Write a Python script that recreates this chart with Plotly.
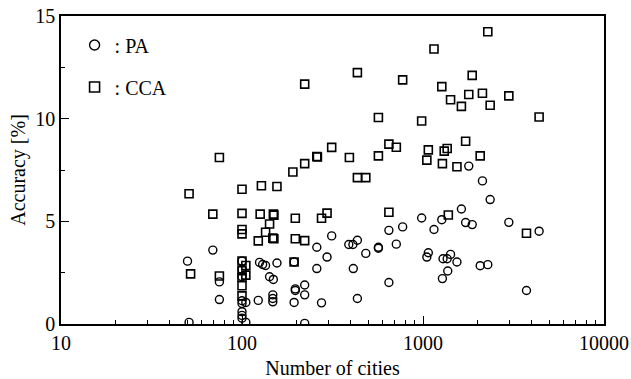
import plotly.graph_objects as go

# PA (circles)
pa_x = [50, 51, 69, 75, 75, 100, 100, 100, 100, 100, 100, 100, 100, 105, 105,
        123, 125, 130, 135, 142, 149, 148, 148, 148, 156, 194, 197, 197, 194,
        222, 222, 222, 259, 259, 275, 295, 313, 389, 410, 412, 434, 434, 483,
        567, 567, 648, 648, 712, 772, 983, 1050, 1070, 1150, 1270, 1290, 1360,
        1280, 1370, 1420, 1540, 1630, 1720, 1870, 1790, 2130, 2070, 2280, 2350,
        2980, 3730, 4380]
pa_y = [3.06, 0.08, 3.6, 2.05, 1.19, 3.06, 2.66, 2.3, 1.13, 1.0, 0.6, 0.42, 0.28, 1.05, 0.08,
        1.15, 3.0, 2.9, 2.85, 2.3, 2.17, 1.42, 1.24, 1.08, 2.97, 1.05, 1.71, 1.63, 3.02,
        1.9, 1.42, 0.03, 3.74, 2.7, 1.03, 3.26, 4.29, 3.87, 3.87, 2.7, 4.08, 1.24, 3.44,
        3.74, 3.69, 4.56, 2.02, 3.89, 4.73, 5.16, 3.26, 3.47, 4.6, 5.08, 3.18, 3.18,
        2.21, 2.58, 3.39, 3.02, 5.6, 4.94, 4.84, 7.69, 6.97, 2.84, 2.89, 6.06,
        4.95, 1.63, 4.52]

# CCA (squares)
cca_x = [51, 52, 75, 69, 75, 100, 100, 100, 100, 100, 105, 100, 105, 100, 100, 100,
         123, 126, 128, 135, 142, 149, 150, 148, 150, 156, 191, 197, 197, 194,
         222, 222, 222, 259, 261, 275, 295, 313, 392, 434, 434, 483, 567, 567,
         648, 648, 712, 772, 983, 1050, 1070, 1150, 1270, 1280, 1310, 1360, 1380,
         1420, 1540, 1630, 1720, 1790, 1870, 2070, 2130, 2280, 2350, 2980, 3730, 4380]
cca_y = [6.34, 2.44, 8.11, 5.35, 2.34, 6.56, 5.39, 4.6, 4.39, 3.07, 2.85, 2.6, 2.38, 2.28, 1.86, 1.37,
         4.05, 5.35, 6.73, 4.47, 4.87, 5.35, 5.3, 4.18, 4.15, 6.7, 7.4, 5.15, 4.15, 3.02,
         11.68, 7.81, 4.06, 8.16, 8.13, 5.15, 5.4, 8.6, 8.11, 12.24, 7.13, 7.13, 10.06, 8.19,
         8.76, 5.44, 8.61, 11.89, 9.89, 7.98, 8.48, 13.39, 11.56, 7.81, 8.42, 8.55, 5.31,
         10.92, 7.66, 10.6, 8.9, 11.18, 12.11, 8.19, 11.24, 14.23, 10.65, 11.11, 4.42, 10.08]

series_names = [": PA", ": CCA"]
x_ticks = [10, 100, 1000, 10000]
x_minor = [m * d for d in (10, 100, 1000) for m in range(2, 10)]
y_ticks = [0, 5, 10, 15]
y_minor = [2.5, 7.5, 12.5]

FONT = "Liberation Serif, Times New Roman, Times, serif"

pa_marker = dict(symbol="circle-open", color="black", line=dict(width=1.4, color="black"))
cca_marker = dict(symbol="square-open", color="black", line=dict(width=1.6, color="black"))

fig = go.Figure()
fig.add_trace(go.Scatter(x=pa_x, y=pa_y, mode="markers", name=series_names[0],
                         showlegend=False, marker=dict(size=8, **pa_marker)))
fig.add_trace(go.Scatter(x=cca_x, y=cca_y, mode="markers", name=series_names[1],
                         showlegend=False, marker=dict(size=8, **cca_marker)))
# legend entries (slightly larger symbols, as in the reference)
fig.add_trace(go.Scatter(x=[None], y=[None], mode="markers", name=series_names[0],
                         legendgroup="pa", marker=dict(size=10, **pa_marker)))
fig.add_trace(go.Scatter(x=[None], y=[None], mode="markers", name=series_names[1],
                         legendgroup="cca", marker=dict(size=10, **cca_marker)))

fig.update_layout(
    width=631, height=379,
    margin=dict(l=61, r=27, t=16, b=55),
    paper_bgcolor="white", plot_bgcolor="white",
    font=dict(family=FONT, size=20, color="black"),
    showlegend=True,
    legend=dict(x=0.025, y=0.969, xanchor="left", yanchor="top",
                bgcolor="rgba(0,0,0,0)", font=dict(size=20, family=FONT),
                traceorder="grouped", tracegroupgap=13, itemwidth=30),
    xaxis=dict(
        type="log", range=[1, 4], tickvals=x_ticks, ticktext=[str(v) for v in x_ticks],
        ticks="inside", ticklen=8, tickwidth=1.2, tickcolor="black",
        minor=dict(tickvals=x_minor, ticks="inside", ticklen=4, tickwidth=1, tickcolor="black"),
        showline=True, linecolor="black", linewidth=1.5, mirror=True,
        showgrid=False, zeroline=False, automargin=False,
        title=dict(text="Number of cities", font=dict(size=20, family=FONT), standoff=8),
        tickfont=dict(size=20, family=FONT),
    ),
    yaxis=dict(
        range=[0, 15], tickvals=y_ticks,
        ticks="inside", ticklen=8, tickwidth=1.2, tickcolor="black",
        minor=dict(tickvals=y_minor, ticks="inside", ticklen=4, tickwidth=1, tickcolor="black"),
        showline=True, linecolor="black", linewidth=1.5, mirror=True,
        showgrid=False, zeroline=False, automargin=False,
        title=dict(text="Accuracy [%]", font=dict(size=20, family=FONT), standoff=4),
        tickfont=dict(size=20, family=FONT),
    ),
)

fig.write_html("out.html")
